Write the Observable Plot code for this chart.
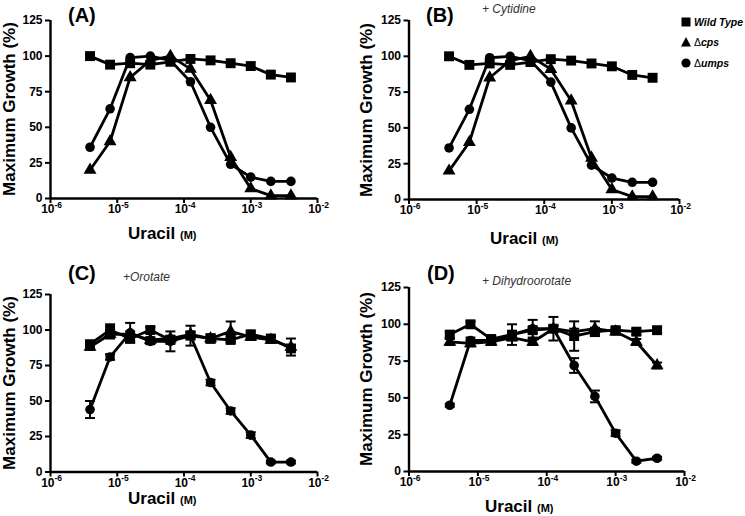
<!DOCTYPE html>
<html><head><meta charset="utf-8">
<script src="https://cdn.jsdelivr.net/npm/d3@7"></script>
<script src="https://cdn.jsdelivr.net/npm/@observablehq/plot@0.6"></script>
<style>
body{margin:0;background:#fff;}
#root{position:relative;width:745px;height:516px;overflow:hidden;font-family:"Liberation Sans",Arial,sans-serif;background:#fff;}
.panel{position:absolute;}
.panel svg{overflow:visible;}
.lbl{position:absolute;white-space:nowrap;color:#000;line-height:1;}
.ylab{font-weight:bold;font-size:17px;transform:translate(-50%,-50%) rotate(-90deg);}
.xlab{font-weight:bold;font-size:17px;transform:translate(0,-50%);}
.xlab small{font-size:11px;}
.letter{font-weight:bold;font-size:20px;transform:translate(0,-50%);}
.sub{font-style:italic;font-size:12px;color:#333;transform:translate(0,-50%);}
.leg{font-size:10.5px;transform:translate(0,-50%);display:flex;align-items:center;}
.leg b{font-style:italic;}
</style></head><body><div id="root"></div>
<script>
// Uracil concentrations (M)
const conc = [3.91e-6, 7.81e-6, 1.56e-5, 3.13e-5, 6.25e-5, 1.25e-4, 2.5e-4, 5e-4, 1e-3, 2e-3, 4e-3];
const xTicks = [1e-6, 1e-5, 1e-4, 1e-3, 1e-2];
const yTicks = [0, 25, 50, 75, 100, 125];
const seriesNames = ["Wild Type", "Δcps", "Δumps"];

// (A)
const aWT   = [100, 94, 95, 94, 96, 98, 97, 95, 93, 87, 85];
const aCps  = [20, 40, 85, 97, 100, 91, 69, 29, 7, 2, 2];
const aUmps = [36, 63, 99, 100, 97, 82, 50, 24, 15, 12, 12];
// (B) + Cytidine
const bWT   = [100, 94, 95, 94, 96, 98, 97, 95, 93, 87, 85];
const bCps  = [20, 40, 85, 97, 100, 91, 69, 29, 7, 2, 2];
const bUmps = [36, 63, 99, 100, 97, 82, 50, 24, 15, 12, 12];
// (C) +Orotate
const cWT   = [90, 100, 94, 100, 93, 96, 94, 93, 97, 94, 87];
const cCps  = [88, 97, 97, 93, 94, 97, 94, 99, 95, 93, 88];
const cUmps = [44, 81, 98, 92, 92, 96, 63, 43, 26, 7, 7];
const cWTErr   = [2, 4, 2, 2, 2, 2, 3, 2, 2, 2, 2];
const cCpsErr  = [2, 3, 2, 2, 2, 2, 2, 7, 2, 2, 6];
const cUmpsErr = [6, 2, 7, 2, 7, 7, 2, 2, 2, 1, 1];
// (D) + Dihydroorotate
const dWT   = [93, 100, 90, 93, 96, 97, 92, 95, 96, 95, 96];
const dCps  = [88, 87, 88, 91, 88, 97, 95, 97, 95, 88, 72];
const dUmps = [45, 89, 89, 93, 97, 97, 72, 51, 26, 7, 9];
const dWTErr   = [2, 2, 2, 7, 2, 2, 10, 2, 2, 2, 2];
const dCpsErr  = [2, 2, 2, 2, 2, 8, 2, 5, 2, 2, 2];
const dUmpsErr = [1, 2, 2, 2, 6, 2, 5, 4, 2, 1, 1];

const root = document.getElementById("root");

const capSymbol = {draw(ctx, size) { const w = Math.sqrt(size / Math.PI); ctx.moveTo(-w, 0); ctx.lineTo(w, 0); }};

const panels = [
  {left: 0,   top: 0,   width: 372, height: 258, ml: 50,   mr: 55, mt: 20, mb: 60,   series: [aWT, aCps, aUmps], err: null},
  {left: 372, top: 0,   width: 373, height: 258, ml: 36.5, mr: 66, mt: 20, mb: 59,   series: [bWT, bCps, bUmps], err: null},
  {left: 0,   top: 258, width: 372, height: 258, ml: 50,   mr: 55, mt: 36, mb: 44.5, series: [cWT, cCps, cUmps], err: [cWTErr, cCpsErr, cUmpsErr]},
  {left: 372, top: 258, width: 373, height: 258, ml: 36.5, mr: 61, mt: 29, mb: 45,   series: [dWT, dCps, dUmps], err: [dWTErr, dCpsErr, dUmpsErr]}
];

const symbols = ["square", "triangle", "circle"];
const radii = [5.6, 4.8, 4.8];

for (const p of panels) {
  const rows = [];
  p.series.forEach((vals, si) => vals.forEach((v, i) => rows.push({x: conc[i], y: v, s: seriesNames[si], e: p.err ? p.err[si][i] : 0})));
  const marks = [
    Plot.ruleY([0], {strokeWidth: 2.4}),
    Plot.ruleX([xTicks[0]], {strokeWidth: 2.4}),
    Plot.axisX({ticks: xTicks, tickSize: 5, strokeWidth: 2, tickFormat: () => "", label: null}),
    Plot.axisY({ticks: yTicks, tickSize: 5, tickPadding: 3, strokeWidth: 2, fontSize: 12, fontWeight: "bold", label: null}),
    Plot.text(xTicks, {x: d => d, frameAnchor: "bottom", dy: 14.5, dx: 4, text: () => "10", textAnchor: "end", fontSize: 12, fontWeight: "bold"}),
    Plot.text(xTicks, {x: d => d, frameAnchor: "bottom", dy: 9, dx: 4, text: d => String(Math.round(Math.log10(d))), textAnchor: "start", fontSize: 8.5, fontWeight: "bold"}),
    Plot.line(rows, {x: "x", y: "y", z: "s", stroke: "black", strokeWidth: 2.8})
  ];
  if (p.err) {
    const er = rows.filter(d => d.e > 0);
    marks.push(
      Plot.ruleX(er, {x: "x", y1: d => d.y - d.e, y2: d => d.y + d.e, stroke: "black", strokeWidth: 2}),
      Plot.dot(er, {x: "x", y: d => d.y + d.e, symbol: capSymbol, r: 5, stroke: "black", strokeWidth: 2, fill: "none"}),
      Plot.dot(er, {x: "x", y: d => d.y - d.e, symbol: capSymbol, r: 5, stroke: "black", strokeWidth: 2, fill: "none"})
    );
  }
  seriesNames.forEach((name, si) => {
    marks.push(Plot.dot(rows.filter(d => d.s === name), {x: "x", y: "y", symbol: symbols[si], r: radii[si], fill: "black", stroke: "none"}));
  });
  const chart = Plot.plot({
    width: p.width, height: p.height,
    marginLeft: p.ml, marginRight: p.mr, marginTop: p.mt, marginBottom: p.mb,
    x: {type: "log", domain: [xTicks[0], xTicks[xTicks.length - 1]]},
    y: {domain: [yTicks[0], yTicks[yTicks.length - 1]]},
    style: {fontFamily: "Liberation Sans, Arial, sans-serif", color: "black", background: "transparent"},
    marks
  });
  const wrap = document.createElement("div");
  wrap.className = "panel";
  wrap.style.left = p.left + "px";
  wrap.style.top = p.top + "px";
  wrap.appendChild(chart);
  root.appendChild(wrap);
}

function addLabel(cls, html, x, y) {
  const d = document.createElement("div");
  d.className = "lbl " + cls;
  d.innerHTML = html;
  d.style.left = x + "px";
  d.style.top = y + "px";
  root.appendChild(d);
  return d;
}

// Y labels
addLabel("ylab", "Maximum Growth (%)", 9, 109);
addLabel("ylab", "Maximum Growth (%)", 366, 110);
addLabel("ylab", "Maximum Growth (%)", 9, 383);
addLabel("ylab", "Maximum Growth (%)", 366, 379);
// X labels
addLabel("xlab", "Uracil <small>(M)</small>", 128, 233);
addLabel("xlab", "Uracil <small>(M)</small>", 490, 238);
addLabel("xlab", "Uracil <small>(M)</small>", 128, 498);
addLabel("xlab", "Uracil <small>(M)</small>", 485, 506);
// Panel letters
addLabel("letter", "(A)", 68, 15);
addLabel("letter", "(B)", 426, 15);
addLabel("letter", "(C)", 68, 273);
addLabel("letter", "(D)", 427, 273);
// Subtitles
addLabel("sub", "+ Cytidine", 482, 9);
addLabel("sub", "+Orotate", 123, 277);
addLabel("sub", "+ Dihydroorotate", 482, 281);

// Legend
const legSvg = [
  '<svg width="12" height="12" style="margin-right:2px"><rect x="1.5" y="1.5" width="9" height="9" fill="black"/></svg>',
  '<svg width="12" height="12" style="margin-right:2px"><path d="M6,1L11,10.5L1,10.5Z" fill="black"/></svg>',
  '<svg width="12" height="12" style="margin-right:2px"><circle cx="6" cy="6" r="4.6" fill="black"/></svg>'
];
addLabel("leg", legSvg[0] + "<b>Wild Type</b>", 680, 22);
addLabel("leg", legSvg[1] + "<span>Δ</span><b>cps</b>", 680, 42);
addLabel("leg", legSvg[2] + "<span>Δ</span><b>umps</b>", 680, 63);
</script>
</body></html>
